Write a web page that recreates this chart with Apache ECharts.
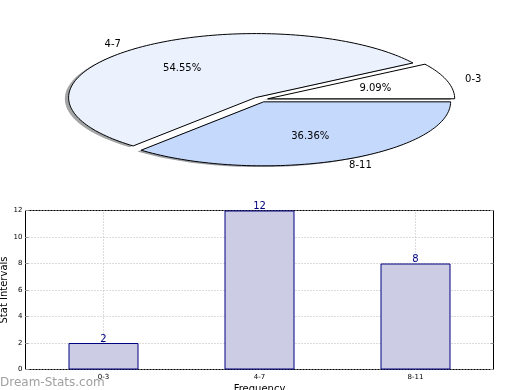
<!DOCTYPE html>
<html>
<head>
<meta charset="utf-8">
<script src="https://cdn.jsdelivr.net/npm/echarts@6/dist/echarts.min.js"></script>
<style>
html,body{margin:0;padding:0;background:#fff;}
#chart{width:520px;height:390px;}
</style>
</head>
<body>
<div id="chart"></div>
<script>
// ---- data ----
const categories = ['0-3', '4-7', '8-11'];
const counts = [2, 12, 8];
const yMin = 0, yMax = 12, yStep = 2;

// ---- derived ----
const total = counts.reduce((a, b) => a + b, 0);
const cumulative = [];
counts.reduce((acc, v, i) => { cumulative[i] = acc; return acc + v; }, 0);
const pctLabels = counts.map(v => (v / total * 100).toFixed(2) + '%');

// ---- pie geometry (elliptical, matplotlib-style) ----
const CX = 260.5, CY = 99.5, RX = 187, RY = 64, EXPLODE = 0.04;
const SHX = -0.02 * RX, SHY = 0.02 * RY;
const pieFill = ['#ffffff', '#ebf2fe', '#c5d9fc'];
const FONT = '10px "DejaVu Sans"';

function renderPie(params, api) {
  const i = params.dataIndex;
  const v = api.value(0);
  const start = cumulative[i] / total * 360;
  const end = start + v / total * 360;
  const mid = (start + end) / 2 * Math.PI / 180;
  const cx = CX + EXPLODE * RX * Math.cos(mid);
  const cy = CY - EXPLODE * RY * Math.sin(mid);
  const pts = [[cx, cy]];
  const n = Math.max(10, Math.ceil((end - start) / 1.5));
  for (let k = 0; k <= n; k++) {
    const a = (start + (end - start) * k / n) * Math.PI / 180;
    pts.push([cx + RX * Math.cos(a), cy - RY * Math.sin(a)]);
  }
  const shadowPts = pts.map(p => [p[0] + SHX, p[1] + SHY]);
  const c = pieFill[i];
  const r = parseInt(c.slice(1, 3), 16), g = parseInt(c.slice(3, 5), 16), b = parseInt(c.slice(5, 7), 16);
  const shadowCol = 'rgba(' + Math.round(r * 0.3) + ',' + Math.round(g * 0.3) + ',' + Math.round(b * 0.3) + ',0.5)';
  const cosm = Math.cos(mid), sinm = Math.sin(mid);
  const lx = cx + 1.1 * RX * cosm, ly = cy - 1.1 * RY * sinm;
  const px = cx + 0.6 * RX * cosm, py = cy - 0.6 * RY * sinm;
  return {
    type: 'group',
    children: [
      { type: 'polygon', z2: 1, shape: { points: shadowPts }, style: { fill: shadowCol } },
      { type: 'polygon', z2: 10, shape: { points: pts }, style: { fill: c, stroke: '#000', lineWidth: 1, lineJoin: 'miter' } },
      { type: 'text', z2: 20, style: { text: categories[i], x: lx, y: ly, fill: '#000', font: FONT, align: cosm < 0 ? 'right' : 'left', verticalAlign: 'middle' } },
      { type: 'text', z2: 20, style: { text: pctLabels[i], x: px, y: py, fill: '#000', font: FONT, align: 'center', verticalAlign: 'middle' } }
    ]
  };
}

const chart = echarts.init(document.getElementById('chart'), null, { renderer: 'canvas' });
const gridLine = { show: true, lineStyle: { color: '#b8b8b8', type: [1, 2], width: 1 } };

chart.setOption({
  animation: false,
  backgroundColor: '#ffffff',
  textStyle: { fontFamily: 'DejaVu Sans' },
  grid: { left: 25.5, top: 210.5, width: 468, height: 159, outerBoundsMode: 'none', containLabel: false, show: true, borderColor: '#000', borderWidth: 1, backgroundColor: 'transparent' },
  xAxis: {
    type: 'category',
    data: categories,
    name: 'Frequency',
    nameLocation: 'middle',
    nameGap: 15,
    nameMoveOverlap: false,
    nameTextStyle: { fontSize: 10, color: '#000' },
    axisLine: { show: false },
    axisTick: { show: true, inside: true, alignWithLabel: true, length: 4, lineStyle: { color: '#999' } },
    axisLabel: { fontSize: 7, color: '#000', margin: 4 },
    splitLine: { show: false }
  },
  yAxis: [{
    type: 'value',
    min: yMin, max: yMax, interval: yStep,
    name: 'Stat Intervals',
    nameLocation: 'middle',
    nameGap: 16,
    nameRotate: 90,
    nameMoveOverlap: false,
    nameTextStyle: { fontSize: 10, color: '#000' },
    axisLine: { show: false },
    axisTick: { show: true, inside: true, length: 3, lineStyle: { color: '#999' } },
    axisLabel: { fontSize: 7, color: '#000', margin: 3 },
    splitLine: gridLine
  }, {
    type: 'value',
    position: 'right',
    min: yMin, max: yMax, interval: yStep,
    axisLine: { show: false },
    axisTick: { show: true, inside: true, length: 3, lineStyle: { color: '#999' } },
    axisLabel: { show: false },
    splitLine: { show: false }
  }],
  graphic: [{
    type: 'text',
    left: 0,
    top: 377,
    style: { text: 'Dream-Stats.com', fill: '#a0a0a0', font: '12px "DejaVu Sans"' },
    z: 0
  }],
  series: [
    {
      type: 'line',
      data: [],
      z: 1,
      silent: true,
      markLine: {
        silent: true,
        z: 1,
        symbol: 'none',
        label: { show: false },
        lineStyle: { color: '#b8b8b8', type: [1, 2], width: 1 },
        data: categories.map(c => ({ xAxis: c }))
      }
    },
    {
      type: 'bar',
      data: counts,
      barWidth: 70,
      z: 3,
      itemStyle: { color: '#ccccE5', borderColor: '#000080', borderWidth: 1 },
      label: { show: true, position: 'top', distance: -1, color: '#000080', fontSize: 10 }
    },
    {
      type: 'custom',
      coordinateSystem: 'none',
      data: counts.map(v => [v]),
      renderItem: renderPie,
      z: 5
    }
  ]
});
</script>
</body>
</html>
